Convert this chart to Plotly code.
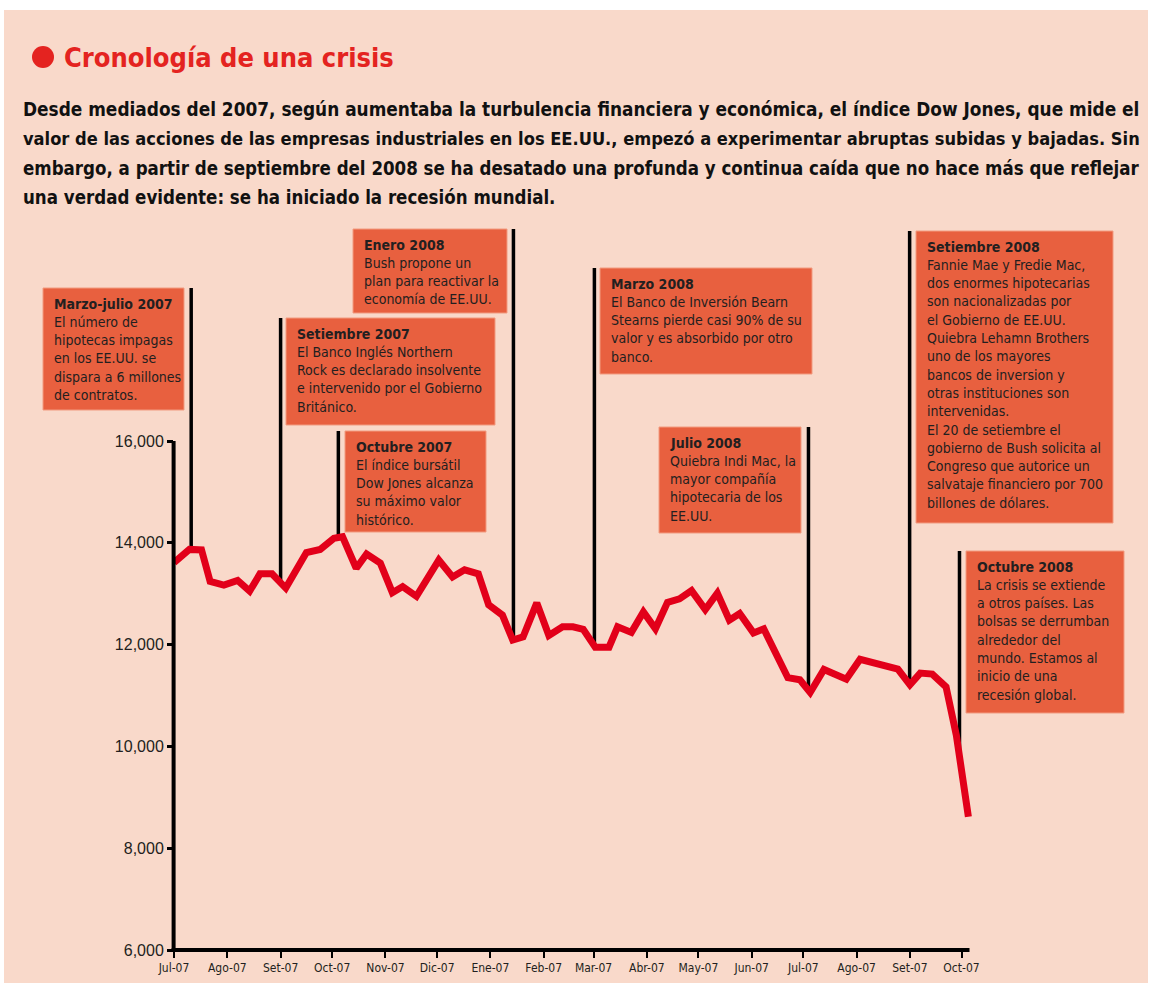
import numpy as np
import pandas as pd
import plotly.graph_objects as go

# ---------------- data ----------------
dates = ["2007-07-01", "2007-07-10", "2007-07-17", "2007-07-22", "2007-07-30", "2007-08-07",
         "2007-08-14", "2007-08-20", "2007-08-27", "2007-09-04", "2007-09-16", "2007-09-24",
         "2007-10-02", "2007-10-07", "2007-10-15", "2007-10-21", "2007-10-29", "2007-11-05",
         "2007-11-11", "2007-11-19", "2007-12-02", "2007-12-10", "2007-12-17", "2007-12-25",
         "2007-12-31", "2008-01-08", "2008-01-14", "2008-01-20", "2008-01-28", "2008-02-04",
         "2008-02-12", "2008-02-18", "2008-02-24", "2008-03-02", "2008-03-10", "2008-03-15",
         "2008-03-23", "2008-03-30", "2008-04-06", "2008-04-13", "2008-04-20", "2008-04-27",
         "2008-05-05", "2008-05-12", "2008-05-19", "2008-05-25", "2008-06-02", "2008-06-08",
         "2008-06-22", "2008-06-29", "2008-07-05", "2008-07-13", "2008-07-26", "2008-08-03",
         "2008-08-25", "2008-09-01", "2008-09-07", "2008-09-14", "2008-09-22", "2008-09-28",
         "2008-10-05"]
dow = [13610, 13870, 13860, 13240, 13170, 13260, 13050, 13390, 13390, 13110, 13810, 13870,
       14090, 14120, 13500, 13780, 13600, 13020, 13140, 12950, 13660, 13330, 13470, 13390,
       12780, 12580, 12090, 12150, 12820, 12180, 12350, 12350, 12300, 11950, 11950, 12350,
       12240, 12640, 12310, 12830, 12900, 13060, 12690, 13010, 12480, 12610, 12230, 12310,
       11350, 11310, 11060, 11510, 11320, 11710, 11520, 11210, 11440, 11420, 11170, 10220,
       8620]

tick_dates = ["2007-07-01", "2007-08-01", "2007-09-01", "2007-10-01", "2007-11-01", "2007-12-01",
              "2008-01-01", "2008-02-01", "2008-03-01", "2008-04-01", "2008-05-01", "2008-06-01",
              "2008-07-01", "2008-08-01", "2008-09-01", "2008-10-01"]
tick_labels = ["Jul-07", "Ago-07", "Set-07", "Oct-07", "Nov-07", "Dic-07", "Ene-07", "Feb-07",
               "Mar-07", "Abr-07", "May-07", "Jun-07", "Jul-07", "Ago-07", "Set-07", "Oct-07"]
y_ticks = [6000, 8000, 10000, 12000, 14000, 16000]
y_labels = ["6,000", "8,000", "10,000", "12,000", "14,000", "16,000"]

event_dates = ["2007-07-11", "2007-09-01", "2007-10-04 14:00", "2008-01-14 10:00",
               "2008-03-01 12:00", "2008-07-04", "2008-08-31 20:00", "2008-09-29 20:00"]
event_titles = ["Marzo-julio 2007", "Setiembre 2007", "Octubre 2007", "Enero 2008",
                "Marzo 2008", "Julio 2008", "Setiembre 2008", "Octubre 2008"]
event_texts = [
    ["El número de", "hipotecas impagas", "en los EE.UU. se", "dispara a 6 millones", "de contratos."],
    ["El Banco Inglés Northern", "Rock es declarado insolvente", "e intervenido por el Gobierno", "Británico."],
    ["El índice bursátil", "Dow Jones alcanza", "su máximo valor", "histórico."],
    ["Bush propone un", "plan para reactivar la", "economía de EE.UU."],
    ["El Banco de Inversión Bearn", "Stearns pierde casi 90% de su", "valor y es absorbido por otro", "banco."],
    ["Quiebra Indi Mac, la", "mayor compañía", "hipotecaria de los", "EE.UU."],
    ["Fannie Mae y Fredie Mac,", "dos enormes hipotecarias", "son nacionalizadas por",
     "el Gobierno de EE.UU.", "Quiebra Lehamn Brothers", "uno de los mayores",
     "bancos de inversion y", "otras instituciones son", "intervenidas.",
     "El 20 de setiembre el", "gobierno de Bush solicita al", "Congreso que autorice un",
     "salvataje financiero por 700", "billones de dólares."],
    ["La crisis se extiende", "a otros países. Las", "bolsas se derrumban", "alrededor del",
     "mundo. Estamos al", "inicio de una", "recesión global."],
]

title_text = "Cronología de una crisis"
intro_lines = [
    "Desde mediados del 2007, según aumentaba la turbulencia financiera y económica, el índice Dow Jones, que mide el",
    "valor de las acciones de las empresas industriales en los EE.UU., empezó a experimentar abruptas subidas y bajadas. Sin",
    "embargo, a partir de septiembre del 2008 se ha desatado una profunda y continua caída que no hace más que reflejar",
    "una verdad evidente: se ha iniciado la recesión mundial.",
]

# ---------------- layout geometry (pixels) ----------------
W, H = 1151, 991
L, R, T, B = 174, 980, 225, 950          # plot area in pixels
PX_PER_DAY = (961.1 - 173.6) / 458.0
PX_PER_UNIT = 509.0 / 10000.0             # 16,000 at y=441, 6,000 at y=950

x_start = pd.Timestamp("2007-07-01")
x_end = x_start + pd.Timedelta(days=(R - L) / PX_PER_DAY)
y_top = 6000 + (B - T) / PX_PER_UNIT


def pxx(x):
    return (x - L) / (R - L)


def pxy(y):
    return (B - y) / (B - T)


def val_at_px(y):
    return 6000 + (B - y) / PX_PER_UNIT


# box rectangles (left, top, right, bottom) and event line tops, in pixels
boxes = [(43, 288, 184, 410), (286, 318, 495, 425), (345, 431, 486, 532), (353, 229, 507, 313),
         (600, 268, 812, 374), (659, 427, 801, 533), (916, 231, 1113, 523), (966, 551, 1124, 713)]
line_tops = [288, 318, 431, 229, 268, 427, 231, 551]
intro_sizes = [18.85, 18.1, 18.55, 18.55]

PINK = "#F9D9CA"
BOX = "#E8603F"
RED = "#E2001A"
TXT = "#231F20"
FONT = "DejaVu Sans Condensed, DejaVu Sans, sans-serif"

fig = go.Figure()
fig.add_trace(go.Scatter(x=pd.to_datetime(dates), y=dow, mode="lines",
                         line=dict(color=RED, width=7), hoverinfo="skip"))

shapes = []
# page background
shapes.append(dict(type="rect", xref="paper", yref="paper", layer="below",
                   x0=pxx(4), x1=pxx(1148), y0=pxy(10), y1=pxy(983),
                   fillcolor=PINK, line=dict(width=0)))
# bullet
shapes.append(dict(type="circle", xref="paper", yref="paper", layer="above",
                   x0=pxx(32), x1=pxx(54), y0=pxy(68), y1=pxy(46),
                   fillcolor="#E42320", line=dict(width=0)))

# event lines
dnum = pd.to_datetime(dates).astype("int64").to_numpy()
for ed, top in zip(event_dates, line_tops):
    t = pd.Timestamp(ed)
    bottom = float(np.interp(t.value, dnum, dow))
    shapes.append(dict(type="line", xref="x", yref="y", layer="below",
                       x0=t, x1=t, y0=val_at_px(top), y1=bottom,
                       line=dict(color="black", width=3.5)))

# boxes
for (x0, y0, x1, y1) in boxes:
    shapes.append(dict(type="rect", xref="paper", yref="paper", layer="above",
                       x0=pxx(x0), x1=pxx(x1), y0=pxy(y1), y1=pxy(y0),
                       fillcolor=BOX, line=dict(color="#F29B80", width=1)))

# axis lines
shapes.append(dict(type="line", xref="paper", yref="paper", layer="above",
                   x0=pxx(173.6), x1=pxx(173.6), y0=pxy(952), y1=pxy(441),
                   line=dict(color="black", width=4)))
shapes.append(dict(type="line", xref="paper", yref="paper", layer="above",
                   x0=pxx(171.6), x1=pxx(969.5), y0=pxy(950), y1=pxy(950),
                   line=dict(color="black", width=4)))

annotations = []
annotations.append(dict(text="<b>" + title_text + "</b>", xref="paper", yref="paper",
                        x=pxx(62), y=pxy(57), xanchor="left", yanchor="middle", showarrow=False,
                        font=dict(family=FONT, size=27, color="#E42320")))
for i, ln in enumerate(intro_lines):
    annotations.append(dict(text="<b>" + ln + "</b>", xref="paper", yref="paper",
                            x=pxx(21), y=pxy(110 + i * 29), xanchor="left", yanchor="middle",
                            showarrow=False,
                            font=dict(family=FONT, size=intro_sizes[i], color="#111111")))

for (bx0, by0, bx1, by1), ttl, lines in zip(boxes, event_titles, event_texts):
    tx = bx0 + 9
    annotations.append(dict(text="<b>" + ttl + "</b>", xref="paper", yref="paper",
                            x=pxx(tx), y=pxy(by0 + 15.5), xanchor="left", yanchor="middle",
                            showarrow=False, font=dict(family=FONT, size=14, color=TXT)))
    for j, ln in enumerate(lines):
        annotations.append(dict(text=ln, xref="paper", yref="paper",
                                x=pxx(tx), y=pxy(by0 + 15.5 + (j + 1) * 18.3),
                                xanchor="left", yanchor="middle", showarrow=False,
                                font=dict(family=FONT, size=14, color=TXT)))

fig.update_layout(
    width=W, height=H,
    margin=dict(l=L, r=W - R, t=T, b=H - B, pad=0),
    paper_bgcolor="white", plot_bgcolor="rgba(0,0,0,0)",
    showlegend=False,
    shapes=shapes, annotations=annotations,
    xaxis=dict(range=[x_start, x_end], showgrid=False, zeroline=False, showline=False,
               tickmode="array", tickvals=pd.to_datetime(tick_dates), ticktext=tick_labels,
               ticks="outside", ticklen=7, tickwidth=2, tickcolor="black",
               tickfont=dict(family=FONT, size=12, color=TXT)),
    yaxis=dict(range=[6000, y_top], showgrid=False, zeroline=False, showline=False,
               tickmode="array", tickvals=y_ticks, ticktext=y_labels,
               ticks="outside", ticklen=6, tickwidth=3, tickcolor="black",
               tickfont=dict(family="Liberation Sans, Arial, sans-serif", size=16, color=TXT)),
)

fig.write_html("out.html", config={"displayModeBar": False},
               post_script="document.body.style.margin='0px';")
